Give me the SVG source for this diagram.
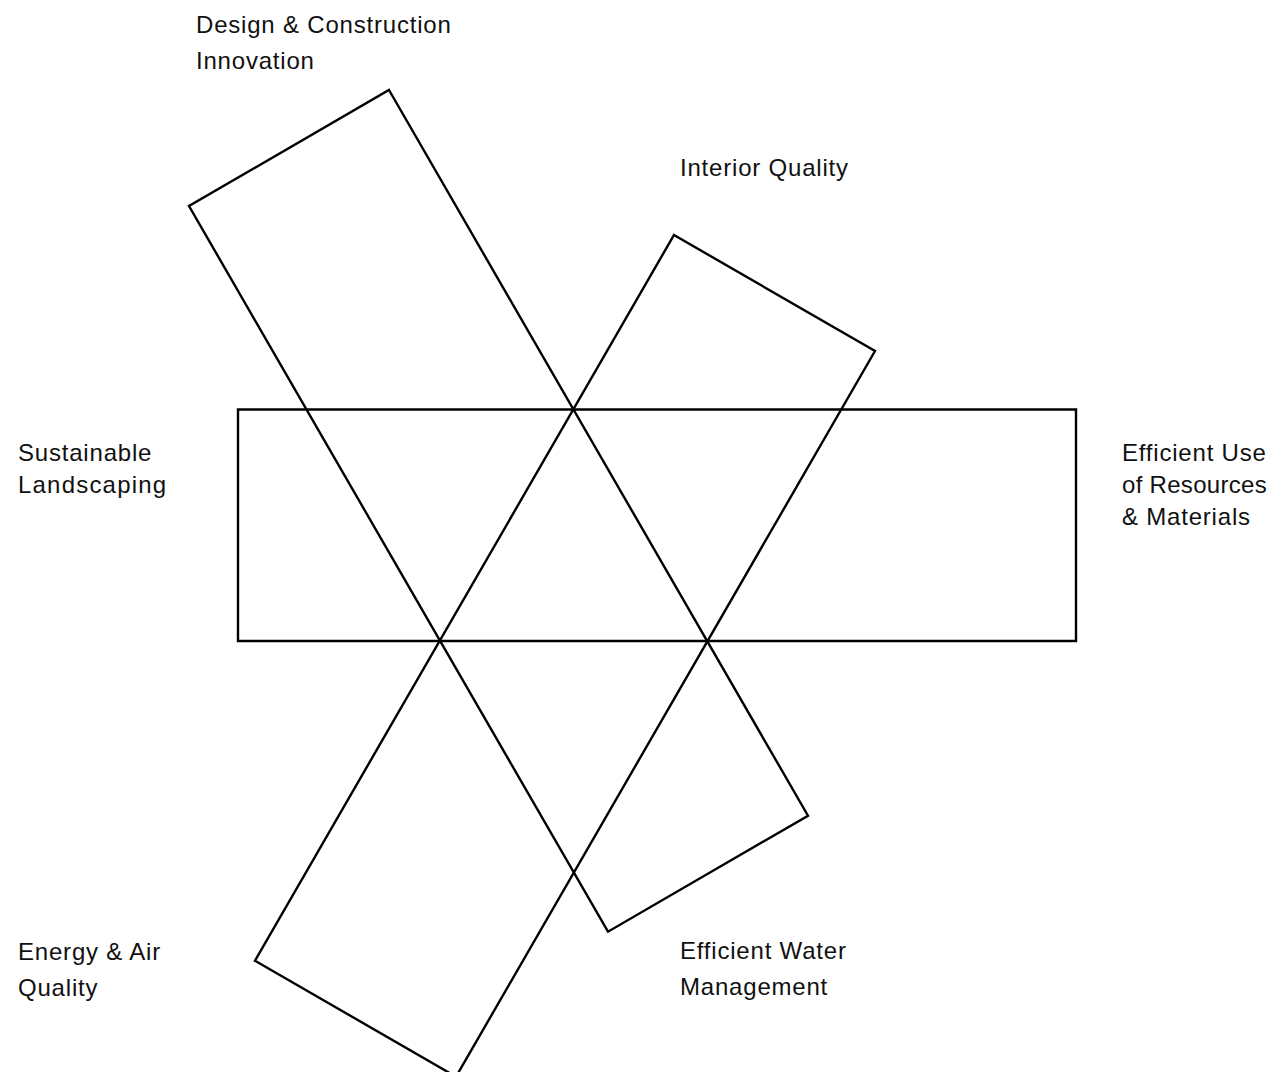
<svg xmlns="http://www.w3.org/2000/svg" width="1274" height="1072" viewBox="0 0 1274 1072">
<style>
.shape{fill:none;stroke:#000;stroke-width:2.4;stroke-linejoin:miter}
.lbl{font-family:"Liberation Sans",Arial,sans-serif;font-size:24px;letter-spacing:0.8px;fill:#111}
</style>
<rect width="1274" height="1072" fill="#fff"/>
<g id="connectors"></g>
<g id="rect-horizontal"><polygon class="shape" points="238,409.5 1076,409.5 1076,641 238,641"/></g>
<g id="rect-design"><polygon class="shape" points="389,90 808,815.7 608,931.7 189,206"/></g>
<g id="rect-interior"><polygon class="shape" points="674,235 875,351 456,1076.7 255,960.7"/></g>
<g id="label-design"><text class="lbl" x="196" y="33">Design &amp; Construction</text><text class="lbl" x="196" y="69">Innovation</text></g>
<g id="label-interior"><text class="lbl" x="680" y="176">Interior Quality</text></g>
<g id="label-landscaping"><text class="lbl" x="18" y="461">Sustainable</text><text class="lbl" x="18" y="493" style="letter-spacing:1.2px">Landscaping</text></g>
<g id="label-resources"><text class="lbl" x="1122" y="461">Efficient Use</text><text class="lbl" x="1122" y="493" style="letter-spacing:0.3px">of Resources</text><text class="lbl" x="1122" y="525">&amp; Materials</text></g>
<g id="label-energy"><text class="lbl" x="18" y="960">Energy &amp; Air</text><text class="lbl" x="18" y="996">Quality</text></g>
<g id="label-water"><text class="lbl" x="680" y="959">Efficient Water</text><text class="lbl" x="680" y="995">Management</text></g>
</svg>
